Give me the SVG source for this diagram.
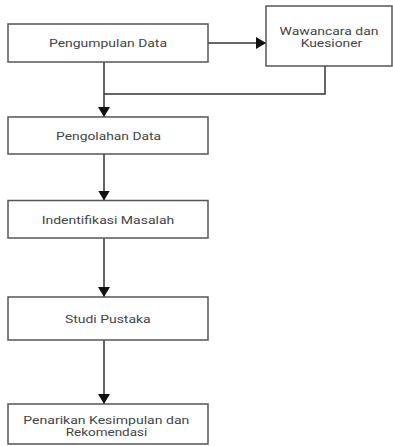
<svg xmlns="http://www.w3.org/2000/svg" width="393" height="446" viewBox="0 0 393 446">
<style>
.box{fill:#fff;stroke:#555;stroke-width:1.5}
.lbl{font-family:Roboto,"Liberation Sans",sans-serif;font-size:10px;fill:#444;text-anchor:middle;dominant-baseline:central}
.conn{fill:none;stroke:#333;stroke-width:1.5}
</style>
<defs>
<marker id="ah" markerWidth="12" markerHeight="12" refX="10" refY="6" orient="auto" markerUnits="userSpaceOnUse">
<path d="M0,0 L10,6 L0,12 Z" fill="#111"/>
</marker>
</defs>
<rect width="393" height="446" fill="#fff"/>
<g id="connectors">
<path class="conn" d="M208,43 H266" marker-end="url(#ah)"/>
<path class="conn" d="M325,66 V94 H104"/>
<path class="conn" d="M104,62 V117" marker-end="url(#ah)"/>
<path class="conn" d="M104,154 V200.5" marker-end="url(#ah)"/>
<path class="conn" d="M104,238 V297" marker-end="url(#ah)"/>
<path class="conn" d="M104,340 V404" marker-end="url(#ah)"/>
</g>
<g id="n1">
<rect class="box" x="8" y="24" width="200" height="38"/>
<text class="lbl" x="108" y="43" textLength="118" lengthAdjust="spacingAndGlyphs">Pengumpulan Data</text>
</g>
<g id="n2">
<rect class="box" x="266" y="6" width="126" height="60"/>
<text class="lbl" x="329" y="31.5" textLength="99" lengthAdjust="spacingAndGlyphs">Wawancara dan</text>
<text class="lbl" x="331.5" y="43" textLength="61.6" lengthAdjust="spacingAndGlyphs">Kuesioner</text>
</g>
<g id="n3">
<rect class="box" x="8" y="117" width="200" height="37"/>
<text class="lbl" x="108.6" y="136.5" textLength="105" lengthAdjust="spacingAndGlyphs">Pengolahan Data</text>
</g>
<g id="n4">
<rect class="box" x="8" y="200.5" width="200" height="37.5"/>
<text class="lbl" x="108" y="220" textLength="132.6" lengthAdjust="spacingAndGlyphs">Indentifikasi Masalah</text>
</g>
<g id="n5">
<rect class="box" x="8" y="297" width="200" height="43"/>
<text class="lbl" x="107.8" y="319.5" textLength="85.7" lengthAdjust="spacingAndGlyphs">Studi Pustaka</text>
</g>
<g id="n6">
<rect class="box" x="8" y="404" width="200" height="40"/>
<text class="lbl" x="106.3" y="420" textLength="166" lengthAdjust="spacingAndGlyphs">Penarikan Kesimpulan dan</text>
<text class="lbl" x="106.5" y="432.5" textLength="81.6" lengthAdjust="spacingAndGlyphs">Rekomendasi</text>
</g>
</svg>
